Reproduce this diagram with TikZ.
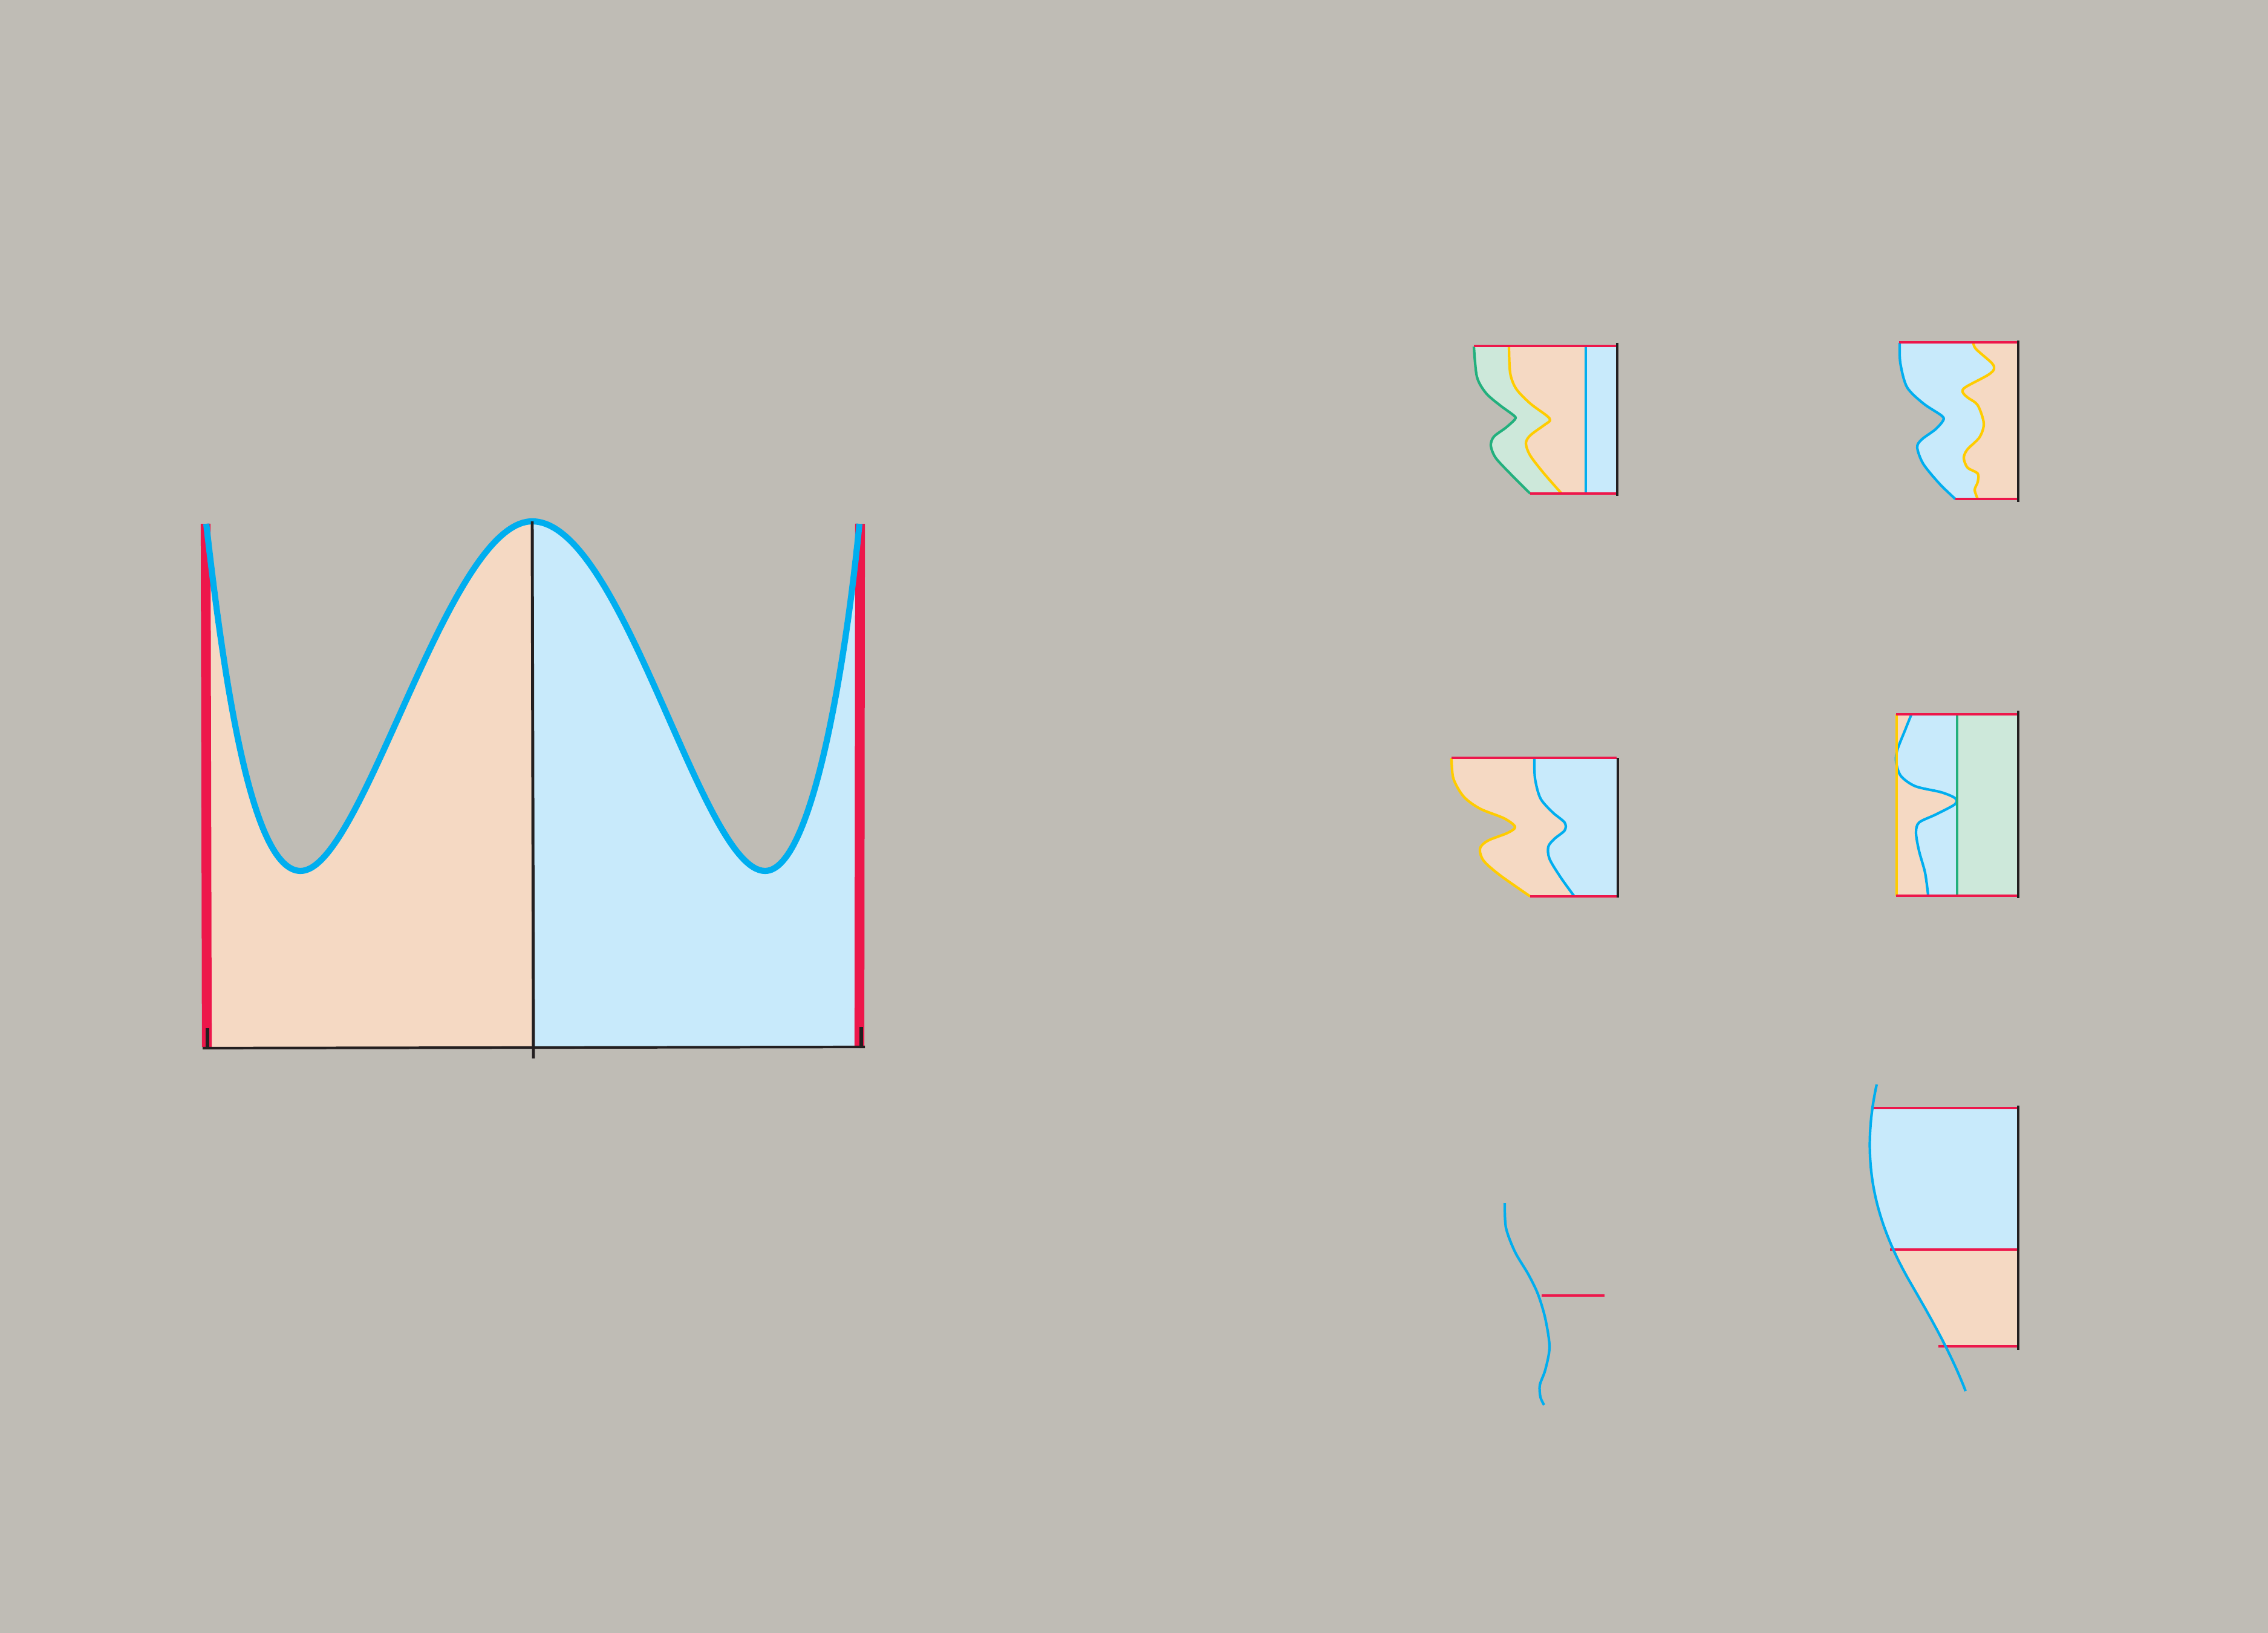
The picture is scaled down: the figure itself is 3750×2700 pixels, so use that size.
\documentclass[tikz,border=0pt]{standalone}
\begin{document}
\begin{tikzpicture}[x=0.01cm,y=-0.01cm,line join=round]
\definecolor{bg}{RGB}{191,188,181}
\definecolor{peach}{RGB}{245,217,195}
\definecolor{lblue}{RGB}{200,234,251}
\definecolor{mint}{RGB}{205,232,218}
\definecolor{cblue}{RGB}{0,174,239}
\definecolor{cred}{RGB}{237,23,75}
\definecolor{cyel}{RGB}{255,204,0}
\definecolor{cgreen}{RGB}{34,176,125}
\definecolor{cblack}{RGB}{35,31,32}
\tikzset{
  bigcurve/.style={draw=cblue,line width=2.9pt},
  smallcurve/.style={line width=1.2pt},
  redline/.style={draw=cred,line width=0.9pt},
  edge/.style={draw=cblack,line width=0.9pt},
}
\fill[bg] (0,0) rectangle (3750,2700);
\useasboundingbox (0,0) rectangle (3750,2700);

% ===== main plot =====
\begin{scope}
\clip (341,800) rectangle (880,1733);
\fill[peach] (341,866) .. controls (370,1120) and (415,1440) .. (497,1440)
  .. controls (600,1440) and (740,862) .. (880,862)
  .. controls (1030,862) and (1160,1440) .. (1265,1440)
  .. controls (1345,1440) and (1400,1080) .. (1421,866)
  -- (1421,1733) -- (341,1733) -- cycle;
\end{scope}
\begin{scope}
\clip (880,800) rectangle (1421,1733);
\fill[lblue] (341,866) .. controls (370,1120) and (415,1440) .. (497,1440)
  .. controls (600,1440) and (740,862) .. (880,862)
  .. controls (1030,862) and (1160,1440) .. (1265,1440)
  .. controls (1345,1440) and (1400,1080) .. (1421,866)
  -- (1421,1733) -- (341,1733) -- cycle;
\end{scope}
\draw[cred,line width=4.6pt] (340,866) -- (342,1731);
\draw[cred,line width=4.6pt] (1422,866) -- (1421,1731);
\path[bigcurve] (341,866) .. controls (370,1120) and (415,1440) .. (497,1440)
  .. controls (600,1440) and (740,862) .. (880,862)
  .. controls (1030,862) and (1160,1440) .. (1265,1440)
  .. controls (1345,1440) and (1400,1080) .. (1421,866);
\draw[cblack,line width=1.4pt] (880,862) -- (882,1750);
\draw[cblack,line width=1.2pt] (335,1733) -- (1430,1731);
\draw[cblack,line width=1.6pt] (343,1700) -- (343,1733);
\draw[cblack,line width=1.6pt] (1424,1698) -- (1424,1731);

% ===== panel 1 =====
\fill[mint] plot[smooth] coordinates {(2437,573) (2442,623) (2457,650) (2480,670) (2503,687) (2505,693) (2490,707) (2470,722) (2465,737) (2473,757) (2497,783) (2530,816)} -- (2674,816) -- (2674,573) -- cycle;
\fill[peach] plot[smooth] coordinates {(2495,573) (2497,617) (2507,643) (2530,667) (2557,687) (2563,695) (2553,703) (2530,720) (2523,733) (2530,753) (2553,783) (2582,816)} -- (2674,816) -- (2674,573) -- cycle;
\fill[lblue] (2622,573) rectangle (2674,816);
\draw[smallcurve,cgreen] plot[smooth] coordinates {(2437,573) (2442,623) (2457,650) (2480,670) (2503,687) (2505,693) (2490,707) (2470,722) (2465,737) (2473,757) (2497,783) (2530,816)};
\draw[smallcurve,cyel] plot[smooth] coordinates {(2495,573) (2497,617) (2507,643) (2530,667) (2557,687) (2563,695) (2553,703) (2530,720) (2523,733) (2530,753) (2553,783) (2582,816)};
\draw[smallcurve,cblue] (2622,573) -- (2622,816);
\draw[redline] (2437,572) -- (2674,572);
\draw[redline] (2530,816) -- (2674,816);
\draw[edge] (2674,567) -- (2674,820);

% ===== panel 2 =====
\fill[lblue] plot[smooth] coordinates {(3141,567) (3142,600) (3153,640) (3180,667) (3210,687) (3213,695) (3200,710) (3177,727) (3170,740) (3180,767) (3207,800) (3233,825)} -- (3337,825) -- (3337,567) -- cycle;
\fill[peach] plot[smooth] coordinates {(3263,567) (3267,577) (3293,600) (3297,610) (3287,620) (3250,640) (3245,648) (3253,657) (3270,670) (3280,700) (3273,723) (3253,743) (3247,757) (3253,773) (3270,783) (3270,797) (3265,810) (3270,825)} -- (3337,825) -- (3337,567) -- cycle;
\draw[smallcurve,cblue] plot[smooth] coordinates {(3141,567) (3142,600) (3153,640) (3180,667) (3210,687) (3213,695) (3200,710) (3177,727) (3170,740) (3180,767) (3207,800) (3233,825)};
\draw[smallcurve,cyel] plot[smooth] coordinates {(3263,567) (3267,577) (3293,600) (3297,610) (3287,620) (3250,640) (3245,648) (3253,657) (3270,670) (3280,700) (3273,723) (3253,743) (3247,757) (3253,773) (3270,783) (3270,797) (3265,810) (3270,825)};
\draw[redline] (3140,566) -- (3337,566);
\draw[redline] (3233,825) -- (3337,825);
\draw[edge] (3337,563) -- (3337,830);

% ===== panel 3 =====
\fill[peach] plot[smooth] coordinates {(2400,1253) (2403,1287) (2420,1317) (2447,1337) (2487,1353) (2505,1367) (2493,1377) (2460,1390) (2447,1403) (2453,1423) (2480,1447) (2530,1482)} -- (2675,1482) -- (2675,1253) -- cycle;
\fill[lblue] plot[smooth] coordinates {(2537,1253) (2538,1287) (2547,1320) (2567,1343) (2587,1360) (2587,1373) (2570,1387) (2560,1400) (2562,1420) (2580,1450) (2603,1482)} -- (2675,1482) -- (2675,1253) -- cycle;
\draw[smallcurve,cyel] plot[smooth] coordinates {(2400,1253) (2403,1287) (2420,1317) (2447,1337) (2487,1353) (2505,1367) (2493,1377) (2460,1390) (2447,1403) (2453,1423) (2480,1447) (2530,1482)};
\draw[smallcurve,cblue] plot[smooth] coordinates {(2537,1253) (2538,1287) (2547,1320) (2567,1343) (2587,1360) (2587,1373) (2570,1387) (2560,1400) (2562,1420) (2580,1450) (2603,1482)};
\draw[redline] (2400,1253) -- (2673,1253);
\draw[redline] (2530,1482) -- (2673,1482);
\draw[edge] (2675,1253) -- (2675,1484);

% ===== panel 4 =====
\fill[peach] (3136,1181) rectangle (3337,1481);
\fill[lblue] plot[smooth] coordinates {(3160,1182) (3150,1207) (3137,1240) (3135,1260) (3143,1283) (3167,1300) (3210,1310) (3233,1320) (3232,1330) (3200,1347) (3173,1360) (3168,1377) (3173,1407) (3183,1443) (3188,1480)} -- (3337,1481) -- (3337,1181) -- cycle;
\fill[mint] (3236,1181) rectangle (3337,1481);
\draw[smallcurve,cblue] plot[smooth] coordinates {(3160,1182) (3150,1207) (3137,1240) (3135,1260) (3143,1283) (3167,1300) (3210,1310) (3233,1320) (3232,1330) (3200,1347) (3173,1360) (3168,1377) (3173,1407) (3183,1443) (3188,1480)};
\draw[smallcurve,cyel] (3136,1181) -- (3136,1481);
\draw[smallcurve,cgreen] (3236,1181) -- (3236,1481);
\draw[redline] (3135,1181) -- (3337,1181);
\draw[redline] (3135,1481) -- (3337,1481);
\draw[edge] (3337,1175) -- (3337,1485);

% ===== panel 5 =====
\draw[redline] (2549,2142) -- (2653,2142);
\draw[smallcurve,cblue] plot[smooth] coordinates {(2488,1989) (2490,2030) (2505,2070) (2527,2107) (2543,2140) (2555,2180) (2562,2227) (2555,2265) (2546,2290) (2547,2310) (2553,2323)};

% ===== panel 6 =====
\begin{scope}
\clip (3050,1832) rectangle (3337,2066);
\fill[lblue] (3103,1793) .. controls (3075,1920) and (3100,2020) .. (3160,2123)
  .. controls (3190,2175) and (3225,2235) .. (3250,2300) -- (3337,2300) -- (3337,1793) -- cycle;
\end{scope}
\begin{scope}
\clip (3050,2066) rectangle (3337,2226);
\fill[peach] (3103,1793) .. controls (3075,1920) and (3100,2020) .. (3160,2123)
  .. controls (3190,2175) and (3225,2235) .. (3250,2300) -- (3337,2300) -- (3337,1793) -- cycle;
\end{scope}
\draw[redline] (3095,1832) -- (3337,1832);
\draw[redline] (3125,2066) -- (3337,2066);
\draw[redline] (3205,2226) -- (3337,2226);
\draw[smallcurve,cblue] (3103,1793) .. controls (3075,1920) and (3100,2020) .. (3160,2123)
  .. controls (3190,2175) and (3225,2235) .. (3250,2300);
\draw[edge] (3337,1828) -- (3337,2232);
\end{tikzpicture}
\end{document}
